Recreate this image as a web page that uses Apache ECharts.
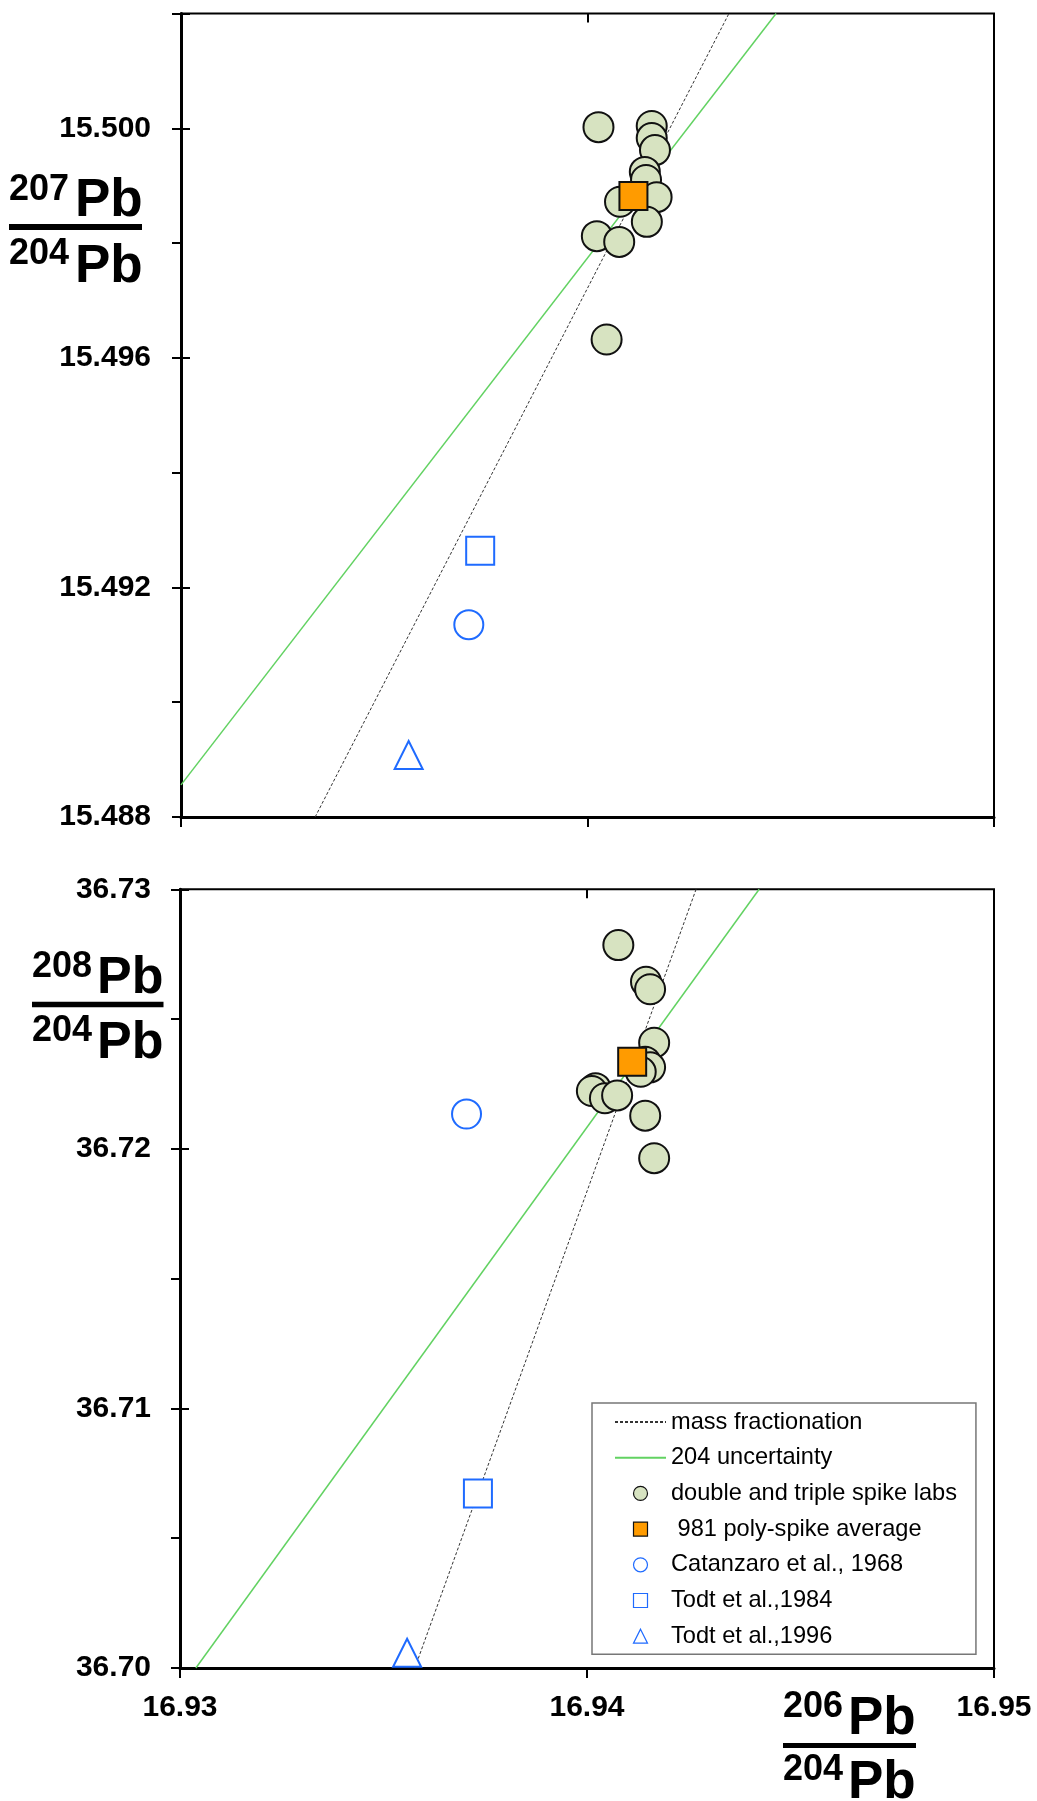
<!DOCTYPE html>
<html>
<head>
<meta charset="utf-8">
<script src="https://cdn.jsdelivr.net/npm/echarts@6/dist/echarts.min.js"></script>
<style>
html,body{margin:0;padding:0;background:#fff;}
#chart{width:1037px;height:1801px;}
</style>
</head>
<body>
<div id="chart"></div>
<script>
// ---------- tick labels ----------
const xTickLabels = ['16.93', '16.94', '16.95'];
const topYTickLabels = ['15.488', '15.492', '15.496', '15.500'];
const bottomYTickLabels = ['36.70', '36.71', '36.72', '36.73'];

// ---------- legend / series names ----------
const seriesNames = [
  'mass fractionation',
  '204 uncertainty',
  'double and triple spike labs',
  ' 981 poly-spike average',
  'Catanzaro et al., 1968',
  'Todt et al.,1984',
  'Todt et al.,1996'
];

// ---------- top panel: 207Pb/204Pb vs 206Pb/204Pb ----------
const topMassFrac = [[16.93330, 15.488], [16.94348, 15.502]];
const topUncert204 = [[16.93000, 15.48856], [16.94464, 15.502]];
const topLabs = [
  [16.94027, 15.50002], [16.94158, 15.50004], [16.94158, 15.49983],
  [16.94166, 15.49962], [16.94141, 15.49924], [16.94144, 15.49910],
  [16.94170, 15.49880], [16.94080, 15.49872], [16.94146, 15.49837],
  [16.94023, 15.49812], [16.94078, 15.49802], [16.94047, 15.49632]
];
const topPolySpike = [[16.94113, 15.49882]];
const topCatanzaro = [[16.93708, 15.49135]];
const topTodt1984 = [[16.93736, 15.49264]];
const topTodt1996 = [[16.93560, 15.48908]];

// ---------- bottom panel: 208Pb/204Pb vs 206Pb/204Pb ----------
const botMassFrac = [[16.93577, 36.70], [16.94268, 36.73]];
const botUncert204 = [[16.93039, 36.70], [16.94423, 36.73]];
const botLabs = [
  [16.94077, 36.72785], [16.94145, 36.72644], [16.94155, 36.72615],
  [16.94165, 36.72409], [16.94143, 36.72336], [16.94155, 36.72314],
  [16.94132, 36.72297], [16.94021, 36.72234], [16.94012, 36.72223],
  [16.94044, 36.72195], [16.94074, 36.72206], [16.94143, 36.72128],
  [16.94165, 36.71964]
];
const botPolySpike = [[16.94111, 36.72336]];
const botCatanzaro = [[16.93704, 36.72134]];
const botTodt1984 = [[16.93732, 36.70672]];
const botTodt1996 = [[16.93558, 36.70059]];

// ---------- styles ----------
const FONT = '"Liberation Sans", Arial, Helvetica, sans-serif';
const BLUE = '#1f6bff';
const GREEN_LINE = '#62d262';
const LAB_FILL = '#d7e3c1';
const ORANGE = '#ff9b00';
const SQUARE_ICON = 'path://M0,0L10,0L10,10L0,10Z';
const TRIANGLE_ICON = 'path://M5,0L10,10L0,10Z';

function makeSeries(g, d) {
  const base = {xAxisIndex: g * 2, yAxisIndex: g * 2, animation: false};
  return [
    Object.assign({}, base, {name: seriesNames[0], type: 'line', data: d.mass, symbol: 'none', showSymbol: false, z: 2,
      itemStyle: {color: '#333'}, lineStyle: {color: '#333', width: 1, type: [3, 2]}}),
    Object.assign({}, base, {name: seriesNames[1], type: 'line', data: d.unc, symbol: 'none', showSymbol: false, z: 2,
      itemStyle: {color: GREEN_LINE}, lineStyle: {color: GREEN_LINE, width: 1.5}}),
    Object.assign({}, base, {name: seriesNames[2], type: 'scatter', data: d.labs, symbol: 'circle', symbolSize: 30, z: 3,
      itemStyle: {color: LAB_FILL, borderColor: '#111', borderWidth: 2, opacity: 1}}),
    Object.assign({}, base, {name: seriesNames[3], type: 'scatter', data: d.poly, symbol: 'rect', symbolSize: 28, z: 4,
      itemStyle: {color: ORANGE, borderColor: '#111', borderWidth: 2, opacity: 1}}),
    Object.assign({}, base, {name: seriesNames[4], type: 'scatter', data: d.cat, symbol: 'circle', symbolSize: 29, z: 3,
      itemStyle: {color: '#fff', borderColor: BLUE, borderWidth: 2, opacity: 1}}),
    Object.assign({}, base, {name: seriesNames[5], type: 'scatter', data: d.t84, symbol: 'rect', symbolSize: 28, z: 3,
      itemStyle: {color: '#fff', borderColor: BLUE, borderWidth: 2, opacity: 1}}),
    Object.assign({}, base, {name: seriesNames[6], type: 'scatter', data: d.t96, symbol: 'triangle', symbolSize: 28, z: 3,
      itemStyle: {color: '#fff', borderColor: BLUE, borderWidth: 2, opacity: 1}})
  ];
}

function labelFormatter(labels, digits) {
  return v => {
    const s = v.toFixed(digits);
    return (Math.abs(parseFloat(s) - v) < 1e-7 && labels.includes(s)) ? s : '';
  };
}

function xAxes(g, showLabels) {
  return [
    {type: 'value', gridIndex: g, min: 16.93, max: 16.95, interval: 0.01,
      axisLine: {show: true, onZero: false, lineStyle: {color: '#000', width: 3}},
      axisTick: {show: true, inside: false, length: 10, lineStyle: {color: '#000', width: 2}},
      splitLine: {show: false},
      axisLabel: {show: showLabels, margin: 25, color: '#000', fontFamily: FONT, fontWeight: 'bold', fontSize: 30,
        formatter: labelFormatter(xTickLabels, 2)}},
    {type: 'value', gridIndex: g, min: 16.93, max: 16.95, interval: 0.01,
      axisLine: {show: false, onZero: false},
      axisTick: {show: true, inside: true, length: 9, lineStyle: {color: '#000', width: 2}},
      splitLine: {show: false}, axisLabel: {show: false}}
  ];
}

function yAxes(g, min, max, minorStep, majorStep, labels, digits, margin) {
  return [
    {type: 'value', gridIndex: g, position: 'left', min: min, max: max, interval: minorStep,
      axisLine: {show: true, onZero: false, lineStyle: {color: '#000', width: 3}},
      axisTick: {show: true, inside: false, length: 9, lineStyle: {color: '#000', width: 2}},
      splitLine: {show: false},
      axisLabel: {show: true, margin: margin, color: '#000', fontFamily: FONT, fontWeight: 'bold', fontSize: 30,
        formatter: labelFormatter(labels, digits)}},
    {type: 'value', gridIndex: g, position: 'left', min: min, max: max, interval: majorStep,
      axisLine: {show: false, onZero: false},
      axisTick: {show: true, inside: true, length: 9, lineStyle: {color: '#000', width: 2}},
      splitLine: {show: false}, axisLabel: {show: false}}
  ];
}

function fracTitle(x, sup1, y1, sup2, y2, supDx, barY, barW, barH, supSize, pbSize, dy) {
  const els = [];
  const t = (text, px, py, size) => ({type: 'text', x: px, y: py, silent: true,
    style: {text: text, fill: '#000', font: 'bold ' + size + 'px ' + FONT, textAlign: 'left', textVerticalAlign: 'middle'}});
  els.push(t(sup1, x, y1, supSize));
  els.push(t('Pb', x + supDx, y1 + dy, pbSize));
  els.push({type: 'rect', silent: true, shape: {x: x, y: barY, width: barW, height: barH}, style: {fill: '#000'}});
  els.push(t(sup2, x, y2, supSize));
  els.push(t('Pb', x + supDx, y2 + dy + 1.5, pbSize));
  return els;
}

const hiddenSymbol = {opacity: 0, color: 'rgba(0,0,0,0)', borderWidth: 0};
const legendData = [
  {name: seriesNames[0], itemStyle: hiddenSymbol},
  {name: seriesNames[1], itemStyle: hiddenSymbol},
  {name: seriesNames[2], icon: 'circle'},
  {name: seriesNames[3], icon: SQUARE_ICON},
  {name: seriesNames[4], icon: 'circle'},
  {name: seriesNames[5], icon: SQUARE_ICON},
  {name: seriesNames[6], icon: TRIANGLE_ICON}
];

const chart = echarts.init(document.getElementById('chart'), null, {renderer: 'canvas'});

const option = {
  backgroundColor: '#fff',
  animation: false,
  grid: [
    {left: 181, top: 13.5, width: 813, height: 803.5, show: true, borderColor: '#000', borderWidth: 2, backgroundColor: 'transparent'},
    {left: 180, top: 889.3, width: 814, height: 778.7, show: true, borderColor: '#000', borderWidth: 2, backgroundColor: 'transparent'}
  ],
  xAxis: [].concat(xAxes(0, false), xAxes(1, true)),
  yAxis: [].concat(
    yAxes(0, 15.488, 15.502, 0.002, 0.004, topYTickLabels, 3, 30),
    yAxes(1, 36.70, 36.73, 0.005, 0.01, bottomYTickLabels, 2, 29)
  ),
  legend: {
    show: true,
    data: legendData,
    orient: 'vertical',
    left: 592,
    top: 1403,
    padding: [7, 19, 6, 22],
    itemWidth: 51,
    itemHeight: 14,
    itemGap: 11.7,
    symbolKeepAspect: true,
    backgroundColor: '#fff',
    borderColor: '#777',
    borderWidth: 1.5,
    borderRadius: 0,
    selectedMode: false,
    itemStyle: {borderWidth: 1.2},
    textStyle: {color: '#000', fontFamily: FONT, fontSize: 23.6, lineHeight: 24}
  },
  graphic: {elements: [].concat(
    fracTitle(9, '207', 190, '204', 254.5, 66, 224, 133, 6, 36, 53, 11),
    fracTitle(32, '208', 967.5, '204', 1031, 65, 1001.7, 131.5, 5.5, 36, 52, 11),
    fracTitle(783, '206', 1707.5, '204', 1770, 65, 1743, 133, 5, 36, 53, 11.5)
  )},
  series: [].concat(
    makeSeries(0, {mass: topMassFrac, unc: topUncert204, labs: topLabs, poly: topPolySpike,
      cat: topCatanzaro, t84: topTodt1984, t96: topTodt1996}),
    makeSeries(1, {mass: botMassFrac, unc: botUncert204, labs: botLabs, poly: botPolySpike,
      cat: botCatanzaro, t84: botTodt1984, t96: botTodt1996})
  )
};
chart.setOption(option);
</script>
</body>
</html>
